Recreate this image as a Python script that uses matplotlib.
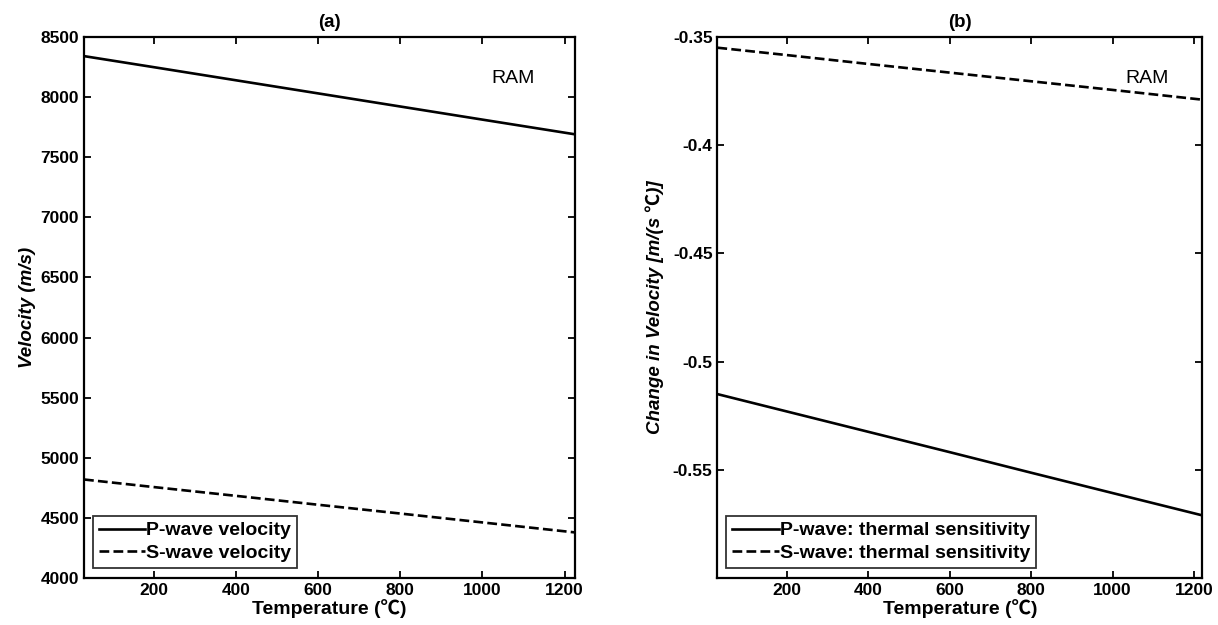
import matplotlib
matplotlib.use("Agg")
import matplotlib.pyplot as plt
import numpy as np

plt.rcParams['font.family'] = ['Liberation Sans', 'Noto Sans CJK SC', 'DejaVu Sans']

temp_a = [30, 200, 400, 600, 800, 1000, 1225]
vp = [8340, 8248, 8139, 8030, 7921, 7812, 7690]
vs = [4820, 4757, 4684, 4610, 4537, 4463, 4380]

temp_b = [30, 200, 400, 600, 800, 1000, 1220]
dvp = [-0.515, -0.523, -0.5324, -0.5418, -0.5513, -0.5607, -0.571]
dvs = [-0.355, -0.3584, -0.3625, -0.3665, -0.3705, -0.3745, -0.379]

xticks = [200, 400, 600, 800, 1000, 1200]

fig = plt.figure(figsize=(12.18, 6.25), dpi=100)
ax1 = fig.add_axes([0.069, 0.075, 0.403, 0.866])
ax2 = fig.add_axes([0.589, 0.075, 0.398, 0.866])


def style(ax):
    ax.tick_params(direction='in', top=True, right=True, length=5, width=1.3,
                   labelsize=12.5)
    for lab in ax.get_xticklabels() + ax.get_yticklabels():
        lab.set_fontweight('bold')
    for s in ax.spines.values():
        s.set_linewidth(1.6)


def add_legend(ax):
    leg = ax.legend(loc='lower left', bbox_to_anchor=(0.01, 0.012), fancybox=False,
                    edgecolor='black', prop={'weight': 'bold', 'size': 14},
                    handlelength=2.4, handletextpad=0.05, borderpad=0.3,
                    labelspacing=0.25, borderaxespad=0.2)
    leg.get_frame().set_linewidth(1.3)


ax1.plot(temp_a, vp, 'k-', lw=1.9, label='P-wave velocity')
ax1.plot(temp_a, vs, 'k--', lw=1.9, label='S-wave velocity')
ax1.set_xlim(30, 1225)
ax1.set_ylim(4000, 8500)
ax1.set_xticks(xticks)
ax1.set_yticks(np.arange(4000, 8501, 500))
ax1.set_title('(a)', fontsize=13.5, fontweight='bold', pad=7)
ax1.set_xlabel('Temperature (\u2103)', fontsize=14, fontweight='bold', labelpad=1)
ax1.set_ylabel('Velocity (m/s)', fontsize=13.5, fontweight='bold', style='italic', labelpad=3)
ax1.text(0.874, 0.924, 'RAM', transform=ax1.transAxes, ha='center', va='center', fontsize=14)
add_legend(ax1)
style(ax1)

ax2.plot(temp_b, dvp, 'k-', lw=1.9, label='P-wave: thermal sensitivity')
ax2.plot(temp_b, dvs, 'k--', lw=1.9, label='S-wave: thermal sensitivity')
ax2.set_xlim(30, 1220)
ax2.set_ylim(-0.6, -0.35)
ax2.set_xticks(xticks)
ax2.set_yticks([-0.55, -0.5, -0.45, -0.4, -0.35])
ax2.set_yticklabels(['-0.55', '-0.5', '-0.45', '-0.4', '-0.35'])
ax2.set_title('(b)', fontsize=13.5, fontweight='bold', pad=7)
ax2.set_xlabel('Temperature (\u2103)', fontsize=14, fontweight='bold', labelpad=1)
ax2.set_ylabel('Change in Velocity [m/(s \u2103)]', fontsize=13.5, fontweight='bold',
               style='italic', labelpad=6)
ax2.text(0.887, 0.924, 'RAM', transform=ax2.transAxes, ha='center', va='center', fontsize=14)
add_legend(ax2)
style(ax2)

fig.savefig('out.png', dpi=100)
